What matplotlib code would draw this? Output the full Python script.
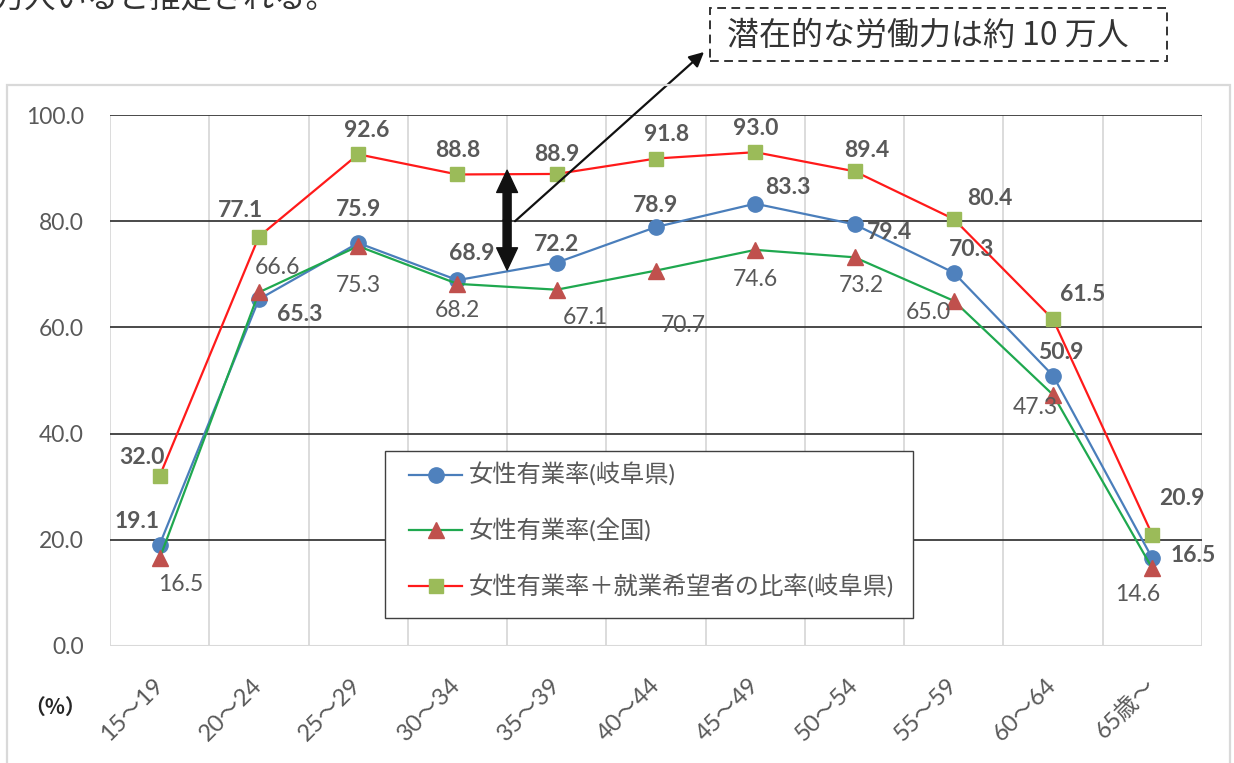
import numpy as np
import matplotlib.pyplot as plt
from matplotlib.patches import Rectangle, FancyArrowPatch, ArrowStyle

plt.rcParams['font.family'] = ['Lato', 'Noto Sans CJK JP', 'DejaVu Sans']

# age groups and female employment rates (%)
ages = ['15～19', '20～24', '25～29', '30～34', '35～39', '40～44',
        '45～49', '50～54', '55～59', '60～64', '65歳～']
gifu_rate = [19.1, 65.3, 75.9, 68.9, 72.2, 78.9, 83.3, 79.4, 70.3, 50.9, 16.5]
national_rate = [16.5, 66.6, 75.3, 68.2, 67.1, 70.7, 74.6, 73.2, 65.0, 47.3, 14.6]
gifu_with_hopeful = [32.0, 77.1, 92.6, 88.8, 88.9, 91.8, 93.0, 89.4, 80.4, 61.5, 20.9]

series_names = ['女性有業率(岐阜県)', '女性有業率(全国)',
                '女性有業率＋就業希望者の比率(岐阜県)']
yticks = [0, 20, 40, 60, 80, 100]

# label offsets in pixels (right, down) from each marker
gifu_off = [(-23, -23), (41, 15), (0, -33), (14, -27), (0, -18), (0, -22),
            (33, -16), (35, 8), (18, -23), (8, -23), (41, -3)]
national_off = [(21, 26), (19, -25), (0, 39), (0, 27), (29, 28), (27, 55),
                (0, 30), (7, 28), (-26, 12), (-18, 13), (-15, 26)]
hopeful_off = [(-18, -19), (-18, -26), (9, -24), (0, -24), (0, -19), (11, -24),
               (0, -24), (12, -21), (36, -21), (30, -25), (29, -37)]

W, H = 1234, 763
fig = plt.figure(figsize=(W / 100, H / 100), dpi=100)
ax = fig.add_axes([110 / W, 1 - 646 / H, (1202 - 110) / W, (646 - 115) / H])

x = np.arange(len(ages))
ax.set_xlim(-0.5, len(ages) - 0.5)
ax.set_ylim(0, 100)

grey = '#d9d9d9'
text_grey = '#595959'

# category separators and horizontal grid
for b in np.arange(-0.5, len(ages), 1):
    ax.axvline(b, color=grey, lw=1.3, zorder=0)
for t in yticks[1:]:
    ax.axhline(t, color='#3a3a3a', lw=1.3, zorder=0.5)
for s in ax.spines.values():
    s.set_visible(False)
ax.axhline(0, color=grey, lw=1.5, zorder=0.5)

ax.set_yticks(yticks, [f'{t:.1f}' for t in yticks])
ax.set_xticks(x, ages)
ax.tick_params(axis='y', length=0, pad=19, labelsize=16.5, labelcolor=text_grey)
ax.tick_params(axis='x', length=0, pad=26, labelsize=17, labelcolor=text_grey)
for lab in ax.get_xticklabels():
    lab.set_rotation(45)
    lab.set_ha('right')
    lab.set_va('center')
    lab.set_rotation_mode('anchor')

ax.plot(x, gifu_rate, color='#4a7ebb', lw=1.6, marker='o', ms=11,
        mfc='#4f81bd', mec='#4f81bd', label=series_names[0], zorder=3)
ax.plot(x, national_rate, color='#1fa84f', lw=1.6, marker='^', ms=11,
        mfc='#c0504d', mec='#c0504d', label=series_names[1], zorder=3)
ax.plot(x, gifu_with_hopeful, color='#ff1a1a', lw=1.6, marker='s', ms=10,
        mfc='#9bbb59', mec='#9bbb59', label=series_names[2], zorder=3)

for vals, offs, bold in [(gifu_rate, gifu_off, True),
                         (national_rate, national_off, False),
                         (gifu_with_hopeful, hopeful_off, True)]:
    for i, (v, (dx, dy)) in enumerate(zip(vals, offs)):
        ax.annotate(f'{v:.1f}', (i, v), xytext=(dx, -dy), textcoords='offset pixels',
                    ha='center', va='center', fontsize=16.5, color=text_grey,
                    fontweight='bold' if bold else 'normal', zorder=4)

# legend box drawn separately so its size can be fixed
ax.add_patch(Rectangle((385 / W, 1 - 618 / H), (913 - 385) / W, (618 - 451) / H,
                       transform=fig.transFigure, fc='white', ec='#404040',
                       lw=1.0, zorder=6, clip_on=False))
leg = ax.legend(loc='upper left', bbox_to_anchor=(409 / W, 1 - 463 / H),
                bbox_transform=fig.transFigure, fontsize=17.5, frameon=False,
                handlelength=2.2, handletextpad=0.25, labelspacing=1.3,
                borderpad=0, borderaxespad=0)
leg.set_zorder(7)
for t in leg.get_texts():
    t.set_color(text_grey)

# double-headed arrow showing the gap in the 30s
mid = 80.2
style = ArrowStyle.Simple(head_length=16, head_width=15, tail_width=5.8)
for tip in (89.6, 70.8):
    ax.add_patch(FancyArrowPatch((3.5, mid), (3.5, tip), arrowstyle=style,
                                 color='#111111', shrinkA=0, shrinkB=0, zorder=5))

# pointer to the callout box
ax.annotate('', xy=(704 / W, 1 - 52 / H), xycoords='figure fraction',
            xytext=(3.58, 80.0), textcoords='data',
            arrowprops=dict(arrowstyle='-|>', color='#111111', lw=1.6,
                            mutation_scale=22, shrinkA=0, shrinkB=0),
            annotation_clip=False, zorder=5)

fig.add_artist(Rectangle((710 / W, 1 - 61 / H), (1167 - 710) / W, 53 / H,
                         transform=fig.transFigure, fill=False, ec='#333333',
                         lw=1.4, ls=(0, (4.5, 2.8))))
fig.text(727 / W, 1 - 36 / H, '潜在的な労働力は約 10 万人', fontsize=23,
         ha='left', va='center', color='#333333',
         family=['Noto Sans CJK JP', 'DejaVu Sans'])

# outer chart frame
fig.add_artist(Rectangle((7 / W, -0.05), (1230 - 7) / W, (763 - 85) / H + 0.05,
                         transform=fig.transFigure, fill=False, ec=grey, lw=1.6))

fig.text(55 / W, 1 - 707 / H, '（%）', fontsize=15, fontweight='bold',
         ha='center', va='center', color='#262626',
         family=['Noto Sans CJK JP', 'DejaVu Sans'])

# tail of the sentence running above the chart
fig.text(-6 / W, 1 - 8 / H, '万人いると推定される。', fontsize=22.5,
         ha='left', va='baseline', color='#333333',
         family=['Noto Sans CJK JP', 'DejaVu Sans'])

fig.savefig('out.png', dpi=100)
